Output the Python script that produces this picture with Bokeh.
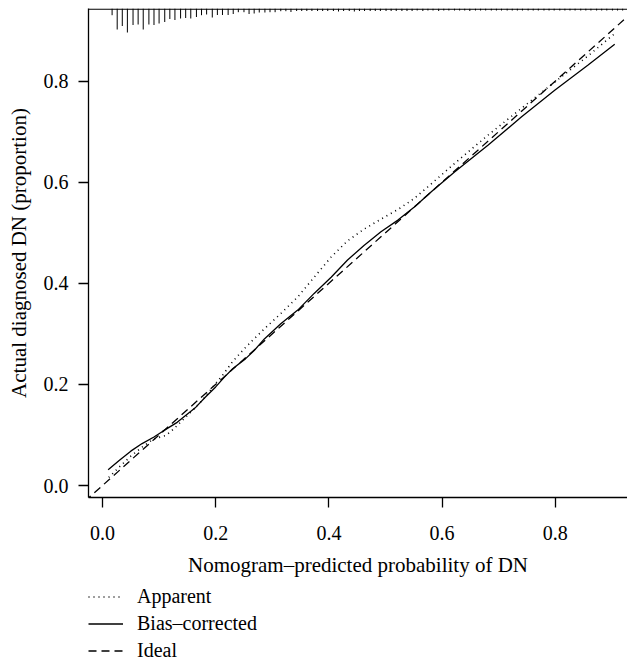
from bokeh.plotting import figure
from bokeh.layouts import column
from bokeh.models import Span, FixedTicker, PrintfTickFormatter, Legend, LegendItem
from bokeh.embed import file_html
from bokeh.resources import INLINE

# ---- data ----
apparent_x = [0.011, 0.03, 0.05, 0.07, 0.09, 0.112, 0.126, 0.144, 0.165, 0.182, 0.197,
              0.212, 0.23, 0.25, 0.265, 0.286, 0.315, 0.345, 0.374, 0.404, 0.433,
              0.462, 0.492, 0.522, 0.551, 0.575, 0.622, 0.681, 0.74, 0.799, 0.858, 0.905]
apparent_y = [0.016, 0.037, 0.058, 0.076, 0.092, 0.099, 0.112, 0.132, 0.155, 0.176, 0.198,
              0.218, 0.245, 0.27, 0.287, 0.31, 0.34, 0.373, 0.412, 0.452, 0.484,
              0.507, 0.527, 0.546, 0.568, 0.591, 0.637, 0.693, 0.746, 0.798, 0.85, 0.894]

bias_x = [0.010, 0.03, 0.05, 0.07, 0.091, 0.106, 0.132, 0.165, 0.182, 0.2, 0.215, 0.23,
          0.253, 0.268, 0.286, 0.315, 0.345, 0.374, 0.404, 0.433, 0.462, 0.492, 0.522,
          0.551, 0.581, 0.622, 0.681, 0.74, 0.799, 0.858, 0.905]
bias_y = [0.031, 0.05, 0.068, 0.083, 0.096, 0.107, 0.125, 0.155, 0.175, 0.195, 0.214, 0.231,
          0.251, 0.267, 0.29, 0.32, 0.347, 0.38, 0.412, 0.446, 0.475, 0.502, 0.525,
          0.551, 0.581, 0.62, 0.673, 0.729, 0.782, 0.832, 0.873]

ideal_x = [-0.1, 1.0]
ideal_y = [-0.1, 1.0]

# rug of predicted probabilities (position, relative frequency)
rug_x = [0.017, 0.026, 0.035, 0.044, 0.054, 0.063, 0.072, 0.082, 0.091, 0.100,
         0.110, 0.119, 0.128, 0.138, 0.147, 0.156, 0.166, 0.175, 0.184, 0.194,
         0.203, 0.212, 0.222, 0.231, 0.240, 0.250, 0.259, 0.268, 0.277, 0.287,
         0.296, 0.305, 0.315, 0.324, 0.333, 0.343, 0.352, 0.361, 0.370, 0.380,
         0.389, 0.398, 0.408, 0.417, 0.426, 0.436, 0.445, 0.454, 0.463, 0.473,
         0.482, 0.491, 0.501, 0.510, 0.519, 0.529, 0.538, 0.547, 0.556, 0.566,
         0.575, 0.584, 0.594, 0.603, 0.612, 0.622, 0.631, 0.640, 0.649, 0.659,
         0.668, 0.677, 0.687, 0.696, 0.705, 0.715, 0.724, 0.733, 0.742, 0.752,
         0.761, 0.770, 0.780, 0.789, 0.798, 0.808, 0.817, 0.826, 0.835, 0.845,
         0.854, 0.863, 0.873, 0.882, 0.891, 0.901, 0.910, 0.919]
rug_n = [6.7, 21, 17.5, 24, 16.5, 16, 21, 16, 16.5, 15,
         13.5, 10.5, 11.5, 10, 9.5, 10, 8.5, 6.7, 6, 9,
         6.5, 6.5, 6.5, 5.5, 3.7, 3.7, 5.5, 5, 4, 4,
         3.7, 3.7, 2.7, 2.7, 3.5, 2.5, 2.5, 2.5, 2.5, 2.5,
         2.5, 2.5, 2.5, 3, 2.5, 2.5, 3, 2.5, 2.5, 2.5,
         2.5, 2.5, 2.5, 2.5, 2.5, 2.5, 2.5, 2.5, 2, 2.5,
         2, 2, 2.5, 2, 2, 2, 2, 2, 2.5, 2,
         2, 2, 2, 2, 2, 2, 2, 2, 2, 2,
         2, 2, 2, 2, 2, 2, 2, 2, 2, 2,
         2, 2, 2, 2, 2, 2, 2, 2]

x_ticks = [0.0, 0.2, 0.4, 0.6, 0.8]
y_ticks = [0.0, 0.2, 0.4, 0.6, 0.8]

labels = ["Apparent", "Bias\u2013corrected", "Ideal"]

FONT = "Liberation Serif"

x0, x1 = -0.0247, 0.9276
y0, y1 = -0.0237, 0.9436

p = figure(width=627, height=585, x_range=(x0, x1), y_range=(y0, y1),
           output_backend="svg", toolbar_location=None,
           min_border_left=88, min_border_right=0, min_border_top=8,
           min_border_bottom=88)
p.outline_line_color = None
p.xgrid.visible = False
p.ygrid.visible = False

for ax in (p.xaxis[0], p.yaxis[0]):
    ax.major_label_text_font = FONT
    ax.major_label_text_font_size = "20px"
    ax.major_label_text_color = "black"
    ax.axis_label_text_font = FONT
    ax.axis_label_text_font_size = "21px"
    ax.axis_label_text_font_style = "normal"
    ax.axis_label_text_color = "black"
    ax.axis_line_color = "black"
    ax.axis_line_width = 1.3
    ax.major_tick_line_color = "black"
    ax.major_tick_line_width = 1.3
    ax.major_tick_out = 10
    ax.major_tick_in = 0
    ax.minor_tick_line_color = None
    ax.formatter = PrintfTickFormatter(format="%.1f")

p.xaxis.ticker = FixedTicker(ticks=x_ticks)
p.yaxis.ticker = FixedTicker(ticks=y_ticks)
p.xaxis.axis_label = "Nomogram\u2013predicted probability of DN"
p.yaxis.axis_label = "Actual diagnosed DN (proportion)"
p.xaxis.major_label_standoff = 18
p.yaxis.major_label_standoff = 10
p.xaxis.axis_label_standoff = 10
p.yaxis.axis_label_standoff = 10

# top border
p.add_layout(Span(location=y1 - 0.0012, dimension="width", line_color="black", line_width=1.3))

# rug at top
rug_scale = 0.0475 / max(rug_n)
p.segment(x0=rug_x, y0=[y1] * len(rug_x), x1=rug_x,
          y1=[y1 - n * rug_scale for n in rug_n], line_color="black", line_width=1)

p.line(apparent_x, apparent_y, line_color="black", line_width=1.6, line_dash="1 4")
p.line(bias_x, bias_y, line_color="black", line_width=1.3)
p.line(ideal_x, ideal_y, line_color="black", line_width=1.3, line_dash="8 5")

# legend below the plot (separate strip, same left edge)
pl = figure(width=627, height=78, x_range=(0, 1), y_range=(0, 1),
            output_backend="svg", toolbar_location=None,
            min_border_left=88, min_border_right=0, min_border_top=0,
            min_border_bottom=0)
pl.outline_line_color = None
pl.axis.visible = False
pl.xgrid.visible = False
pl.ygrid.visible = False
# legend-key renderers: their points lie outside this strip's ranges, only the keys show
off = [5, 6]
l_app = pl.line(off, off, line_color="black", line_width=1.6, line_dash="1 4")
l_bias = pl.line(off, off, line_color="black", line_width=1.3)
l_ideal = pl.line(off, off, line_color="black", line_width=1.3, line_dash="8 5")

legend = Legend(items=[LegendItem(label=labels[0], renderers=[l_app]),
                       LegendItem(label=labels[1], renderers=[l_bias]),
                       LegendItem(label=labels[2], renderers=[l_ideal])],
                location="top_left", orientation="vertical")
legend.margin = 0
legend.padding = 0
legend.border_line_color = None
legend.background_fill_alpha = 0
legend.glyph_width = 35
legend.glyph_height = 23
legend.label_height = 23
legend.spacing = 4
legend.label_standoff = 14
legend.label_text_font = FONT
legend.label_text_font_size = "20px"
legend.label_text_color = "black"
pl.add_layout(legend)

open("out.html", "w").write(file_html(column(p, pl), INLINE))
